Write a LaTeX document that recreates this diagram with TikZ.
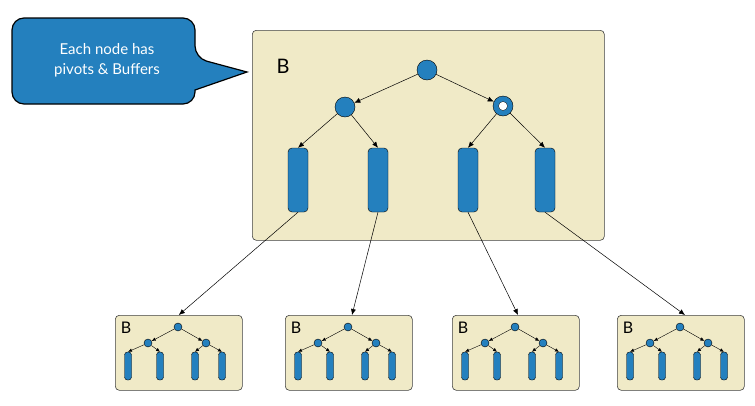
\documentclass[tikz,border=0pt]{standalone}
\usepackage{fontspec}
\setmainfont{Lato}
\usetikzlibrary{arrows.meta}
\definecolor{tan}{RGB}{240,234,199}
\definecolor{nblue}{RGB}{36,128,190}
\begin{document}
\begin{tikzpicture}[x=1pt,y=-1pt,
  box/.style={draw=black!75,fill=tan,rounded corners=4pt,line width=0.6pt},
  piv/.style={circle,draw=black,fill=nblue,inner sep=0pt,minimum size=#1},
  buf/.style={draw=black,fill=nblue,rounded corners=#1,inner sep=0pt},
  arr/.style={-{Latex[length=6pt,width=5pt]},line width=0.5pt},
  sarr/.style={-{Latex[length=4pt,width=3.5pt]},line width=0.4pt},
  pics/sub/.style={code={
    \node[box,minimum width=127pt,minimum height=75pt,anchor=north west] (-box) at (0,0) {};
    \node[anchor=center,font=\fontsize{16}{16}\selectfont] (-lab) at (11,13) {B};
    \node[piv=8pt] (-r) at (63,12) {};
    \node[piv=8pt] (-a) at (33,28) {};
    \node[piv=8pt] (-b) at (91,28) {};
    \foreach \i/\x in {1/13,2/45,3/80,4/107}{
      \node[buf=3pt,minimum width=7pt,minimum height=28pt] (-f\i) at (\x,51) {};}
    \draw[sarr] (-r) -- (-a); \draw[sarr] (-r) -- (-b);
    \draw[sarr] (-a) -- (-f1.north); \draw[sarr] (-a) -- (-f2.north);
    \draw[sarr] (-b) -- (-f3.north); \draw[sarr] (-b) -- (-f4.north);
  }}]
\useasboundingbox (0,0) rectangle (755,405);
% callout
\fill[nblue,draw=black,line width=1.2pt,rounded corners=12pt]
  (12,18) -- (195,18) -- (195,58) [sharp corners] -- (247,72) -- (195,90) [rounded corners=12pt] -- (195,104) -- (12,104) -- cycle;
\node[text=white,align=center,font=\fontsize{15}{20}\selectfont] (call) at (107,60) {Each node has\\pivots \& Buffers};
% big box
\node[box,minimum width=352pt,minimum height=210pt,anchor=north west] (big) at (252,30) {};
\node[font=\fontsize{20}{20}\selectfont] (bl) at (283,66) {B};
\node[piv=20pt] (root) at (427,70) {};
\node[piv=20pt] (lc) at (345,107) {};
\node[piv=20pt] (rc) at (503,106) {};
\node[circle,fill=white,draw=black,line width=0.3pt,minimum size=9pt,inner sep=0pt] (rch) at (503,106) {};
\foreach \i/\x in {1/298,2/378,3/468,4/545}{
  \node[buf=4pt,minimum width=20pt,minimum height=64pt] (bf\i) at (\x,180) {};}
\draw[arr] (root) -- (lc); \draw[arr] (root) -- (rc);
\draw[arr] (lc) -- (bf1.north); \draw[arr] (lc) -- (bf2.north);
\draw[arr] (rc) -- (bf3.north); \draw[arr] (rc) -- (bf4.north);
% subtrees
\pic (s1) at (115,315) {sub};
\pic (s2) at (285,315) {sub};
\pic (s3) at (452,315) {sub};
\pic (s4) at (617,315) {sub};
\draw[arr] (bf1.south) -- (s1-box.north);
\draw[arr] (bf2.south) -- (352,315);
\draw[arr] (bf3.south) -- (518,315);
\draw[arr] (bf4.south) -- (685,315);
\end{tikzpicture}
\end{document}
